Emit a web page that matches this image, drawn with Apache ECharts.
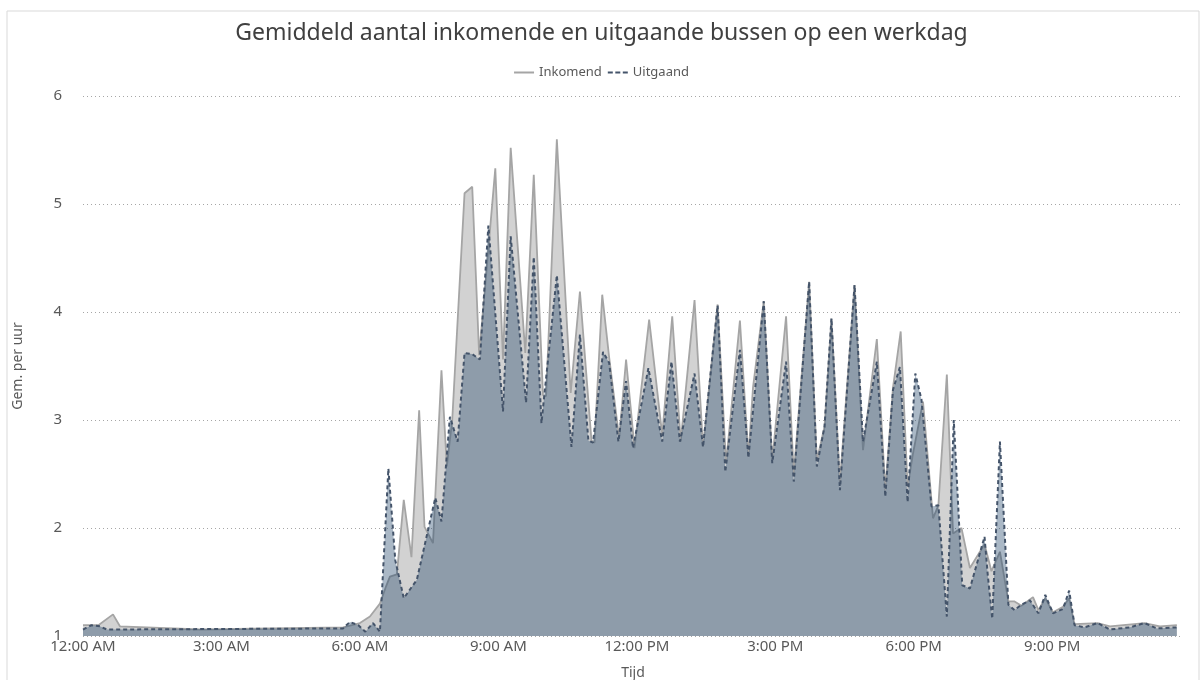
<!DOCTYPE html>
<html>
<head>
<meta charset="utf-8">
<title>Gemiddeld aantal bussen</title>
<script src="https://cdn.jsdelivr.net/npm/echarts@6/dist/echarts.min.js"></script>
<style>
  html, body { margin: 0; padding: 0; background: #fff; }
  #chart { width: 1203px; height: 680px; }
</style>
</head>
<body>
<div id="chart"></div>
<script>
// tijden als "H:MM" (24-uurs), waarden = gemiddeld aantal bussen per uur
var inkomendTijd = ['0:00', '0:20', '0:39', '0:48', '2:32', '5:38', '6:00', '6:13', '6:26', '6:34', '6:39', '6:48',
    '6:57', '7:07', '7:17', '7:24', '7:35', '7:46', '7:53', '8:00', '8:16', '8:26', '8:35', '8:56', '9:06', '9:16',
    '9:35', '9:46', '9:58', '10:02', '10:16', '10:34', '10:46', '11:01', '11:05', '11:15', '11:24', '11:37', '11:46',
    '11:57', '12:16', '12:33', '12:46', '12:57', '13:15', '13:26', '13:45', '13:56', '14:14', '14:25', '14:31',
    '14:45', '14:56', '15:14', '15:24', '15:44', '15:54', '16:04', '16:13', '16:24', '16:43', '16:54', '17:12',
    '17:23', '17:33', '17:43', '17:52', '17:59', '18:12', '18:25', '18:32', '18:43', '18:51', '19:02', '19:13',
    '19:32', '19:41', '19:52', '20:03', '20:11', '20:20', '20:35', '20:42', '20:51', '21:01', '21:14', '21:22',
    '21:29', '21:59', '22:15', '23:00', '23:20', '23:42'];
var inkomendWaarde = [1.10, 1.10, 1.20, 1.09, 1.06, 1.08, 1.12, 1.18, 1.30, 1.46, 1.55, 1.57,
    2.26, 1.73, 3.09, 2.01, 1.86, 3.46, 2.57, 3.00, 5.10, 5.16, 3.60, 5.33, 3.56, 5.52,
    3.62, 5.27, 3.23, 3.22, 5.60, 3.25, 4.19, 2.81, 2.79, 4.16, 3.58, 2.83, 3.56,
    2.74, 3.93, 2.86, 3.96, 2.80, 4.11, 2.75, 4.07, 2.60, 3.92, 2.66, 3.30,
    4.10, 2.62, 3.96, 2.50, 4.28, 2.62, 2.94, 3.94, 2.42, 4.25, 2.72, 3.75,
    2.35, 3.30, 3.82, 2.38, 2.69, 3.17, 2.09, 2.21, 3.42, 1.95, 2.00, 1.63,
    1.85, 1.60, 1.78, 1.32, 1.32, 1.28, 1.36, 1.24, 1.35, 1.22, 1.27, 1.35,
    1.11, 1.12, 1.09, 1.12, 1.09, 1.10];

var uitgaandTijd = ['0:00', '0:11', '0:22', '0:31', '5:38', '5:47', '5:58', '6:07', '6:17', '6:26', '6:37', '6:46',
    '6:57', '7:14', '7:38', '7:46', '7:57', '8:07', '8:16', '8:26', '8:36', '8:47', '9:06', '9:16', '9:36', '9:46',
    '9:56', '10:00', '10:16', '10:35', '10:46', '10:57', '11:03', '11:16', '11:24', '11:36', '11:46', '11:55',
    '12:15', '12:33', '12:45', '12:56', '13:15', '13:26', '13:45', '13:55', '14:14', '14:25', '14:45', '14:56',
    '15:14', '15:24', '15:44', '15:54', '16:04', '16:13', '16:24', '16:43', '16:54', '17:12', '17:23', '17:33',
    '17:42', '17:52', '18:02', '18:10', '18:23', '18:32', '18:43', '18:52', '19:03', '19:13', '19:32', '19:36',
    '19:42', '19:52', '20:03', '20:11', '20:20', '20:31', '20:42', '20:51', '21:01', '21:14', '21:22', '21:29',
    '21:42', '21:59', '22:15', '22:41', '23:00', '23:16', '23:42'];
var uitgaandWaarde = [1.06, 1.10, 1.09, 1.06, 1.07, 1.13, 1.10, 1.04, 1.12, 1.04, 2.55, 1.70,
    1.35, 1.52, 2.28, 2.06, 3.03, 2.80, 3.62, 3.61, 3.56, 4.80, 3.08, 4.70, 3.16, 4.51,
    2.97, 3.25, 4.34, 2.75, 3.79, 2.81, 2.79, 3.63, 3.53, 2.80, 3.36, 2.74,
    3.48, 2.80, 3.54, 2.80, 3.43, 2.75, 4.06, 2.52, 3.65, 2.65, 4.10, 2.60,
    3.54, 2.43, 4.28, 2.57, 2.94, 3.94, 2.35, 4.25, 2.80, 3.54, 2.29, 3.28,
    3.49, 2.24, 3.43, 3.19, 2.20, 2.21, 1.18, 3.00, 1.47, 1.44, 1.92, 1.58,
    1.16, 2.80, 1.29, 1.24, 1.29, 1.33, 1.21, 1.38, 1.21, 1.25, 1.42, 1.10,
    1.08, 1.12, 1.06, 1.08, 1.12, 1.07, 1.08];

var yTicks = [1, 2, 3, 4, 5, 6];
var xTickMinuten = [0, 180, 360, 540, 720, 900, 1080, 1260];

function naarMinuten(t) {
    var p = t.split(':');
    return parseInt(p[0], 10) * 60 + parseInt(p[1], 10);
}

function paren(tijden, waarden) {
    return tijden.map(function (t, i) { return [naarMinuten(t), waarden[i]]; });
}

function klokLabel(min) {
    var h = Math.floor(min / 60) % 24;
    var m = min % 60;
    var ampm = h < 12 ? 'AM' : 'PM';
    var h12 = h % 12 === 0 ? 12 : h % 12;
    return h12 + ':' + (m < 10 ? '0' : '') + m + ' ' + ampm;
}

var chart = echarts.init(document.getElementById('chart'));

var font = 'Noto Sans';

var option = {
    backgroundColor: '#ffffff',
    animation: false,

    graphic: [{
        type: 'rect',
        shape: { x: 7, y: 11, width: 1192, height: 690 },
        style: { fill: 'none', stroke: '#d9d9d9', lineWidth: 1 },
        silent: true,
        z: -10
    }],

    title: {
        text: 'Gemiddeld aantal inkomende en uitgaande bussen op een werkdag',
        left: 'center',
        top: 17,
        textStyle: { fontFamily: font, fontSize: 23, fontWeight: 'normal', color: '#404040' }
    },

    legend: {
        top: 61,
        left: 'center',
        itemWidth: 20,
        itemHeight: 2,
        itemGap: 6,
        textStyle: { fontFamily: font, fontSize: 13, color: '#595959' },
        data: [
            { name: 'Inkomend', icon: 'path://M0,0H20V2H0Z' },
            { name: 'Uitgaand', icon: 'path://M0,0H5V2H0Z M7.5,0H12.5V2H7.5Z M15,0H20V2H15Z' }
        ]
    },

    grid: {
        left: 83,
        right: 20,
        top: 96,
        bottom: 44,
        outerBoundsMode: 'none'
    },

    xAxis: {
        type: 'value',
        min: 0,
        max: 1430,
        interval: 180,
        name: 'Tijd',
        nameLocation: 'middle',
        nameGap: 30,
        nameTextStyle: { fontFamily: font, fontSize: 14, color: '#595959' },
        axisLine: { show: false },
        axisTick: { show: false },
        splitLine: { show: false },
        axisLabel: {
            fontFamily: font,
            fontSize: 15,
            color: '#595959',
            margin: 3,
            showMaxLabel: false,
            formatter: function (v) {
                return xTickMinuten.indexOf(v) >= 0 ? klokLabel(v) : '';
            }
        }
    },

    yAxis: {
        type: 'value',
        min: yTicks[0],
        max: yTicks[yTicks.length - 1],
        interval: 1,
        name: 'Gem. per uur',
        nameLocation: 'middle',
        nameGap: 58,
        nameTextStyle: { fontFamily: font, fontSize: 14, color: '#595959' },
        axisLine: { show: false },
        axisTick: { show: false },
        axisLabel: { fontFamily: font, fontSize: 15, color: '#595959', margin: 21 },
        splitLine: {
            show: true,
            lineStyle: { type: [1, 3], color: '#a6a6a6', width: 1 }
        }
    },

    series: [
        {
            name: 'Inkomend',
            type: 'line',
            symbol: 'none',
            data: paren(inkomendTijd, inkomendWaarde),
            itemStyle: { color: '#a5a5a5' },
            lineStyle: { color: '#a5a5a5', width: 1.8 },
            areaStyle: { color: '#d2d2d2', opacity: 1, origin: 'start' },
            z: 2
        },
        {
            name: 'Uitgaand',
            type: 'line',
            symbol: 'none',
            data: paren(uitgaandTijd, uitgaandWaarde),
            itemStyle: { color: '#44546a' },
            lineStyle: { color: '#44546a', width: 2, type: [4, 3] },
            areaStyle: { color: 'rgba(31,68,105,0.38)', opacity: 1, origin: 'start' },
            z: 3
        }
    ]
};

chart.setOption(option);

window.addEventListener('resize', function () {
    chart.resize();
});
</script>
</body>
</html>
